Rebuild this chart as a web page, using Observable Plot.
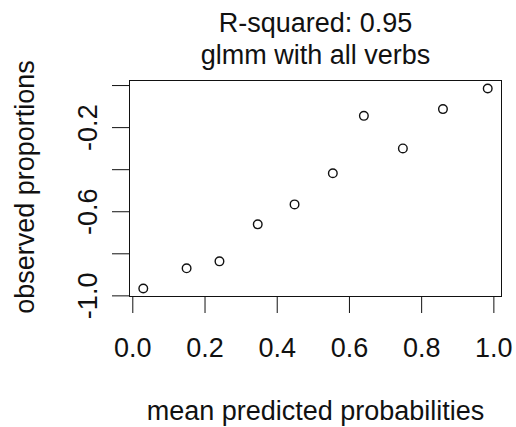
<!DOCTYPE html>
<html>
<head>
<meta charset="utf-8">
<script src="https://cdn.jsdelivr.net/npm/d3@7"></script>
<script src="https://cdn.jsdelivr.net/npm/@observablehq/plot@0.6"></script>
<style>
  html, body { margin: 0; padding: 0; background: #fff; }
  #chart { width: 516px; height: 427px; }
</style>
</head>
<body>
<div id="chart"></div>
<script>
// Data
const predicted = [0.029, 0.149, 0.240, 0.346, 0.448, 0.554, 0.640, 0.748, 0.859, 0.983];
const observed  = [-0.965, -0.869, -0.836, -0.660, -0.565, -0.417, -0.144, -0.299, -0.112, -0.014];

const xTicks = [0, 0.2, 0.4, 0.6, 0.8, 1.0];
const yTicks = [-1.0, -0.8, -0.6, -0.4, -0.2, 0.0];
const yLabeled = [-1.0, -0.6, -0.2];

const titleLines = ["R-squared: 0.95", "glmm with all verbs"];
const xTitle = ["mean predicted probabilities"];
const yTitle = ["observed proportions"];

const points = predicted.map((p, i) => ({p, o: observed[i]}));

// R-style 4% range extension
function rdomain(v) {
  const [lo, hi] = d3.extent(v);
  const pad = (hi - lo) * 0.04;
  return [lo - pad, hi + pad];
}

const fmt = d => d.toFixed(1); // plain hyphen-minus like R
const FS = 27;
const ink = "#111";

const chart = Plot.plot({
  width: 516,
  height: 427,
  marginLeft: 129,
  marginRight: 15,
  marginTop: 80,
  marginBottom: 131,
  style: {fontFamily: "'Liberation Sans', Arial, sans-serif", background: "#fff", color: ink},
  x: {domain: rdomain(predicted)},
  y: {domain: rdomain(observed)},
  marks: [
    Plot.frame({stroke: ink, strokeWidth: 1}),
    Plot.axisX(xTicks, {tickSize: 17, tickFormat: () => "", label: null, stroke: ink}),
    Plot.axisY(yTicks, {tickSize: 17, tickFormat: () => "", label: null, stroke: ink}),
    Plot.text(xTicks, {x: d => d, text: d => fmt(d), frameAnchor: "bottom", dy: 60, lineAnchor: "bottom", fontSize: FS, fill: ink}),
    Plot.text(yLabeled, {y: d => d, text: d => fmt(d), frameAnchor: "left", dx: -32.5, rotate: -90, textAnchor: "middle", lineAnchor: "bottom", fontSize: FS, fill: ink}),
    Plot.text(xTitle, {text: d => d, frameAnchor: "bottom", dy: 123, lineAnchor: "bottom", fontSize: FS, fill: ink}),
    Plot.text(yTitle, {text: d => d, frameAnchor: "left", dx: -96, dy: -1.5, rotate: -90, textAnchor: "middle", lineAnchor: "bottom", fontSize: FS, fill: ink}),
    Plot.text([titleLines[0]], {text: d => d, frameAnchor: "top", dy: -49, lineAnchor: "bottom", fontSize: FS, fill: ink}),
    Plot.text([titleLines[1]], {text: d => d, frameAnchor: "top", dy: -17, lineAnchor: "bottom", fontSize: FS, fill: ink}),
    Plot.dot(points, {x: "p", y: "o", r: 4.3, stroke: ink, strokeWidth: 1.4, fill: "none"})
  ]
});

document.getElementById("chart").append(chart);
</script>
</body>
</html>
